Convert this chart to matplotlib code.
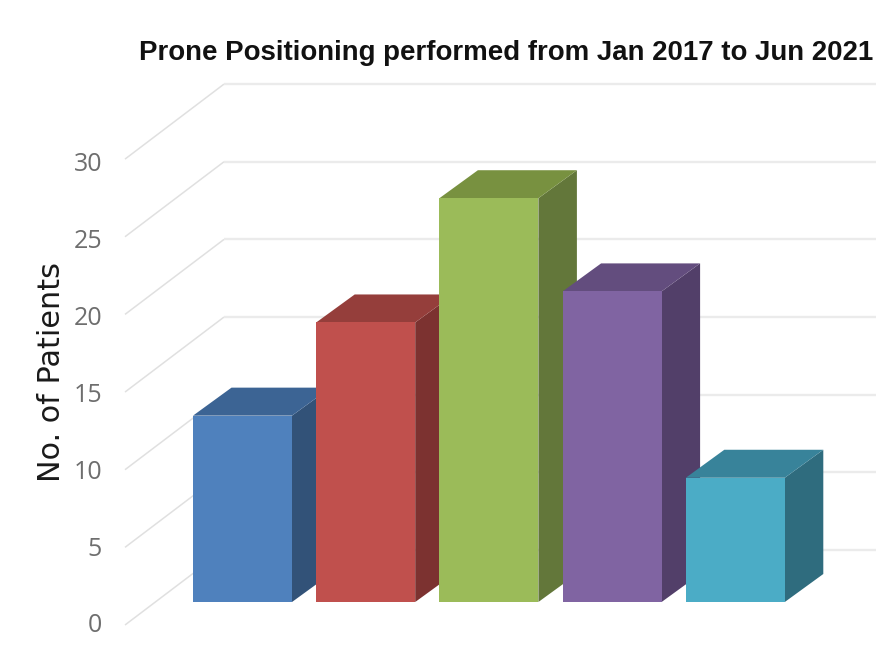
import matplotlib
matplotlib.use("Agg")
import matplotlib.pyplot as plt
from matplotlib.patches import Polygon

title = "Prone Positioning performed from Jan 2017 to Jun 2021"
ylabel = "No. of Patients"
values = [12, 18, 26, 20, 8]
front_colors = ["#4f81bd", "#c0504d", "#9bbb59", "#8064a2", "#4bacc6"]
top_colors = ["#3c6494", "#953e3b", "#789140", "#634d7e", "#38839a"]
side_colors = ["#325278", "#7c3230", "#63773a", "#523f69", "#2f6c7e"]
tick_values = [0, 5, 10, 15, 20, 25, 30]

# pixel geometry of the figure expressed as axis scales
W, H = 876, 648
PX_PER_UNIT = 15.53
PX_PER_CAT = 123.2
BASE_PY = 602.0
CAT0_PX = 242.5


def dx(px):
    return px / PX_PER_CAT


def dy(px):
    return px / PX_PER_UNIT


fig = plt.figure(figsize=(W / 100, H / 100), dpi=100, facecolor="white")
ax = fig.add_axes([0, 0, 1, 1])
ax.set_xlim(-CAT0_PX / PX_PER_CAT, (W - CAT0_PX) / PX_PER_CAT)
ax.set_ylim((BASE_PY - H) / PX_PER_UNIT, BASE_PY / PX_PER_UNIT)
ax.axis("off")

# wall and floor grid
front_x = dx(125 - CAT0_PX)
back_x = dx(224 - CAT0_PX)
floor_front = dy(602 - 625)
wall_shift = dy(75)
for v in tick_values:
    ax.plot([front_x, back_x], [v + floor_front, v + floor_front + wall_shift],
            color="#e0e0e0", lw=1.1, zorder=1, solid_capstyle="butt")
    ax.plot([back_x, ax.get_xlim()[1]], [v + floor_front + wall_shift] * 2,
            color="#ebebeb", lw=1.7, zorder=1, solid_capstyle="butt")
    ax.text(dx(102 - CAT0_PX), v * 0.99 + floor_front - dy(1), str(v), ha="right", va="center",
            color="#6e6e6e", fontsize=18, family="Open Sans", zorder=5)

# bars with a receding top and side
half = dx(49.5)
off_x = dx(38.5)
off_y = dy(28)
for i, v in enumerate(values):
    z = 2 + i
    xl, xr = i - half, i + half
    ax.add_patch(Polygon([(xr, 0), (xr + off_x, off_y), (xr + off_x, v + off_y), (xr, v)],
                         closed=True, fc=side_colors[i], ec="none", zorder=z))
    ax.add_patch(Polygon([(xl, v), (xr, v), (xr + off_x, v + off_y), (xl + off_x, v + off_y)],
                         closed=True, fc=top_colors[i], ec="none", zorder=z))
    ax.add_patch(Polygon([(xl, 0), (xr, 0), (xr, v), (xl, v)],
                         closed=True, fc=front_colors[i], ec="none", zorder=z))

ax.text(dx(52 - CAT0_PX), dy(BASE_PY - 372), ylabel, rotation=90, ha="center", va="center",
        color="#1a1a1a", fontsize=21.8, family="DejaVu Sans", zorder=5)
ax.text(dx(139 - CAT0_PX), dy(BASE_PY - 53.5), title, ha="left", va="center",
        color="#111111", fontsize=19.9, fontweight="bold", family="Liberation Sans", zorder=5)

fig.savefig("out.png", dpi=100, facecolor="white")
